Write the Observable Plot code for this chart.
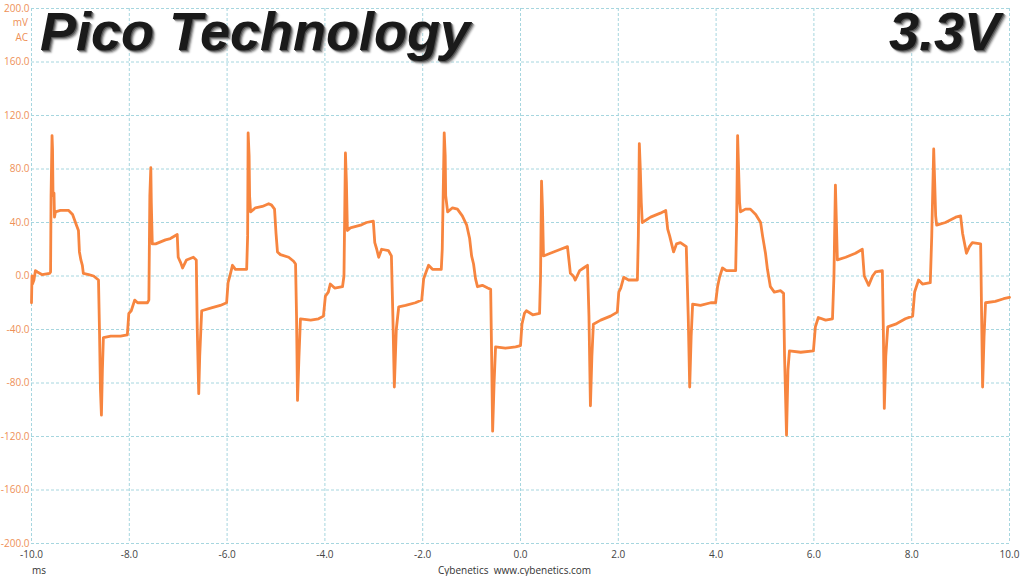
<!DOCTYPE html>
<html>
<head>
<meta charset="utf-8">
<script src="https://cdn.jsdelivr.net/npm/d3@7"></script>
<script src="https://cdn.jsdelivr.net/npm/@observablehq/plot@0.6"></script>
<style>
  html, body { margin: 0; padding: 0; background: #fff; }
  #wrap { position: relative; width: 1024px; height: 576px; font-family: "Open Sans", "DejaVu Sans", sans-serif; }
  .big { position: absolute; top: 0px; padding-right: 6px; font-family: "Liberation Sans", Arial, sans-serif; font-weight: bold; font-style: italic;
         font-size: 54px; line-height: normal; white-space: nowrap; color: #1a1a1a;
         text-shadow: 1px 1px 0 #555, 2px 2px 1px #888, 3px 3px 2px #bbb; }
  .unit { position: absolute; font-size: 10px; color: #ee9057; text-align: right; width: 28px; left: 0; }
  .foot { position: absolute; font-size: 10px; color: #333; white-space: nowrap; }
</style>
</head>
<body>
<div id="wrap">
  <div id="chart"></div>
  <div class="big" style="left:40px;">Pico Technology</div>
  <div class="big" style="right:18px;">3.3V</div>
  <div class="unit" style="top:15px;">mV</div>
  <div class="unit" style="top:30px;">AC</div>
  <div class="foot" style="left:32px; top:563px;">ms</div>
  <div class="foot" style="left:438px; top:563px;">Cybenetics&nbsp;&nbsp;www.cybenetics.com</div>
</div>
<script>
// Time axis values (ms)
const timeMs = [
  -10.00, -9.99, -9.98, -9.95, -9.92, -9.88, -9.78, -9.63, -9.61, -9.60, -9.58, -9.57, -9.56, -9.54, -9.53, -9.51,
  -9.41, -9.24, -9.16, -9.08, -9.04, -9.02, -8.99, -8.96, -8.94, -8.83, -8.73, -8.63, -8.61, -8.59, -8.57, -8.55,
  -8.53, -8.38, -8.18, -8.04, -8.01, -7.96, -7.89, -7.83, -7.63, -7.60, -7.58, -7.56, -7.55, -7.53, -7.46, -7.26,
  -7.16, -7.02, -7.00, -6.95, -6.91, -6.83, -6.69, -6.63, -6.61, -6.58, -6.56, -6.52, -6.34, -6.14, -6.01, -5.98,
  -5.93, -5.89, -5.83, -5.60, -5.58, -5.57, -5.55, -5.54, -5.52, -5.42, -5.28, -5.15, -5.09, -5.03, -5.00, -4.97,
  -4.91, -4.74, -4.64, -4.60, -4.58, -4.56, -4.53, -4.50, -4.29, -4.13, -4.03, -3.99, -3.93, -3.89, -3.80, -3.64,
  -3.61, -3.58, -3.56, -3.54, -3.48, -3.27, -3.15, -3.01, -2.98, -2.94, -2.90, -2.84, -2.70, -2.64, -2.61, -2.58,
  -2.54, -2.49, -2.35, -2.15, -2.02, -1.98, -1.94, -1.88, -1.80, -1.62, -1.60, -1.56, -1.54, -1.53, -1.49, -1.39,
  -1.29, -1.19, -1.10, -1.04, -1.00, -0.96, -0.92, -0.88, -0.78, -0.67, -0.61, -0.59, -0.57, -0.54, -0.51, -0.31,
  -0.10, 0.00, 0.03, 0.08, 0.12, 0.25, 0.39, 0.41, 0.43, 0.45, 0.47, 0.61, 0.82, 0.96, 0.99, 1.02,
  1.08, 1.12, 1.21, 1.29, 1.37, 1.40, 1.43, 1.46, 1.49, 1.64, 1.84, 1.98, 2.01, 2.05, 2.11, 2.21,
  2.39, 2.41, 2.43, 2.45, 2.47, 2.49, 2.66, 2.86, 2.97, 3.01, 3.05, 3.13, 3.19, 3.27, 3.39, 3.43,
  3.46, 3.49, 3.52, 3.68, 3.89, 3.99, 4.03, 4.07, 4.13, 4.21, 4.40, 4.42, 4.44, 4.46, 4.48, 4.50,
  4.60, 4.70, 4.81, 4.91, 4.95, 5.01, 5.05, 5.11, 5.19, 5.32, 5.38, 5.40, 5.44, 5.47, 5.50, 5.73,
  5.99, 6.03, 6.09, 6.24, 6.38, 6.41, 6.44, 6.46, 6.48, 6.65, 6.85, 6.99, 7.03, 7.12, 7.20, 7.26,
  7.40, 7.42, 7.44, 7.47, 7.51, 7.67, 7.87, 8.02, 8.06, 8.14, 8.22, 8.38, 8.41, 8.45, 8.47, 8.49,
  8.51, 8.69, 8.90, 9.00, 9.04, 9.12, 9.18, 9.24, 9.41, 9.43, 9.45, 9.48, 9.51, 9.71, 9.88, 10.00
];
// Ripple voltage values (mV AC)
const rippleMv = [
  -20, 0, -6, -3, 4, 3, 1, 2, 3, 60, 105, 95, 60, 62, 44, 48,
  49, 49, 46, 38, 34, 18, 12, 8, 2, 1, 0, -3, -40, -85, -104, -70,
  -46, -45, -45, -44, -28, -26, -18, -20, -20, -18, 60, 81, 55, 24, 24, 27,
  28, 31, 14, 10, 6, 12, 14, 12, -40, -88, -60, -26, -24, -22, -20, -5,
  2, 8, 5, 5, 30, 107, 90, 60, 48, 51, 52, 54, 53, 50, 32, 18,
  16, 14, 11, 9, -30, -93, -60, -32, -33, -32, -30, -15, -12, -6, -9, -8,
  0, 92, 70, 34, 36, 38, 40, 41, 25, 20, 14, 20, 19, 15, -30, -83,
  -40, -23, -22, -20, -18, -2, 2, 8, 5, 5, 20, 107, 90, 60, 48, 51,
  50, 45, 38, 28, 15, 9, -2, -8, -7, -9, -10, -60, -116, -80, -53, -54,
  -53, -52, -36, -28, -26, -29, -28, 0, 71, 50, 15, 17, 20, 22, 12, 2,
  0, -3, 4, 6, 8, -30, -97, -60, -36, -33, -30, -27, -12, -9, -1, -3,
  -3, 30, 99, 80, 55, 40, 44, 47, 49, 35, 30, 18, 24, 25, 22, -30,
  -83, -45, -21, -22, -20, -20, -8, -1, 6, 4, 4, 40, 105, 80, 55, 48,
  50, 50, 46, 40, 30, 17, 5, -8, -12, -11, -13, -60, -119, -70, -56, -57,
  -56, -38, -31, -33, -32, 0, 68, 40, 12, 14, 17, 20, 0, -7, 0, 3,
  4, -40, -99, -60, -38, -36, -32, -30, -12, -3, -6, -5, 30, 95, 70, 45,
  38, 40, 44, 45, 32, 17, 22, 25, 24, -30, -83, -45, -20, -19, -17, -16
];
const xTicks = [-10, -8, -6, -4, -2, 0, 2, 4, 6, 8, 10];
const yTicks = [-200, -160, -120, -80, -40, 0, 40, 80, 120, 160, 200];

const data = timeMs.map((t, i) => ({t, v: rippleMv[i]}));
const fmt = d => d.toFixed(1);
const gridStyle = {stroke: "#a6d6df", strokeOpacity: 1, strokeDasharray: "3,2", strokeWidth: 1};

const chart = Plot.plot({
  width: 1024,
  height: 576,
  marginLeft: 31,
  marginRight: 15,
  marginTop: 8,
  marginBottom: 33,
  style: {fontFamily: "'Open Sans', 'DejaVu Sans', sans-serif", fontSize: "10px", background: "transparent"},
  x: {domain: [-10, 10]},
  y: {domain: [-200, 200]},
  marks: [
    Plot.gridX(xTicks, gridStyle),
    Plot.gridY(yTicks, gridStyle),
    Plot.axisX(xTicks, {tickSize: 0, tickPadding: 7, tickFormat: fmt, fill: "#444", label: null}),
    Plot.axisY(yTicks, {tickSize: 0, tickPadding: 2, tickFormat: fmt, fill: "#ee9057", label: null}),
    Plot.line(data, {x: "t", y: "v", stroke: "#f7853f", strokeWidth: 2.8, strokeLinejoin: "round"})
  ]
});
document.getElementById("chart").appendChild(chart);
</script>
</body>
</html>
